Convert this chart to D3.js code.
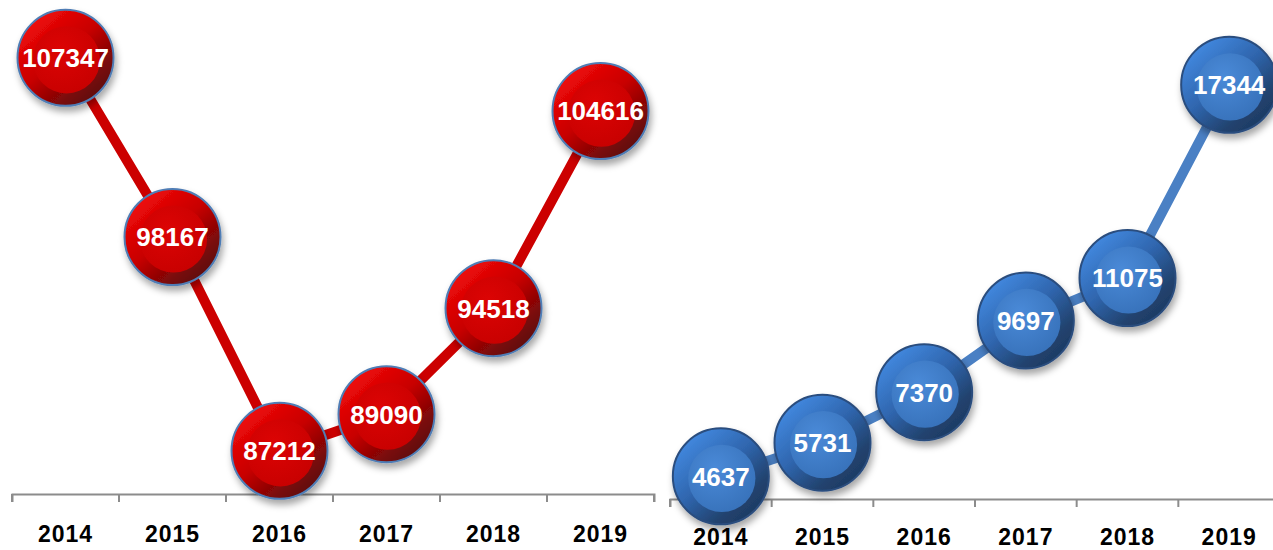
<!DOCTYPE html>
<html>
<head>
<meta charset="utf-8">
<script src="https://cdn.jsdelivr.net/npm/d3@7"></script>
<style>
  html, body { margin: 0; padding: 0; background: #ffffff; }
  svg { display: block; }
</style>
</head>
<body>
<svg id="chart" width="1273" height="550"></svg>
<script>
// ---- data ----
const years = ["2014", "2015", "2016", "2017", "2018", "2019"];
const leftValues = [107347, 98167, 87212, 89090, 94518, 104616];
const rightValues = [4637, 5731, 7370, 9697, 11075, 17344];
const leftDomain = [85000, 110000];
const rightDomain = [4000, 20000];

const svg = d3.select("#chart");
const defs = svg.append("defs");

// shadow filter
const f = defs.append("filter").attr("id", "shadow")
  .attr("x", "-30%").attr("y", "-30%").attr("width", "160%").attr("height", "170%");
f.append("feDropShadow").attr("dx", 2).attr("dy", 5).attr("stdDeviation", 3.5)
  .attr("flood-color", "#000").attr("flood-opacity", 0.35);

function linGrad(id, stops) {
  const g = defs.append("linearGradient").attr("id", id)
    .attr("x1", "15%").attr("y1", "10%").attr("x2", "85%").attr("y2", "90%");
  stops.forEach(s => g.append("stop").attr("offset", s[0]).attr("stop-color", s[1]));
}
function radGrad(id, stops) {
  const g = defs.append("radialGradient").attr("id", id)
    .attr("cx", "40%").attr("cy", "35%").attr("r", "75%");
  stops.forEach(s => g.append("stop").attr("offset", s[0]).attr("stop-color", s[1]));
}
linGrad("redOuter", [["0%", "#f00a0a"], ["45%", "#c80000"], ["80%", "#7a0808"], ["100%", "#5e0d0d"]]);
radGrad("redInner", [["0%", "#dc0404"], ["100%", "#c60000"]]);
linGrad("blueOuter", [["0%", "#4289e0"], ["45%", "#2f65ad"], ["80%", "#22436f"], ["100%", "#1d3a62"]]);
radGrad("blueInner", [["0%", "#4a8ad8"], ["100%", "#3670b8"]]);

const R = 48;

function panel(opts) {
  const x = d3.scaleBand().domain(years).range(opts.xRange);
  const y = d3.scaleLinear().domain(opts.domain).range(opts.yRange);
  const g = svg.append("g");

  // axis
  const axis = d3.axisBottom(x).tickSize(8).tickSizeOuter(8).tickFormat(d => d).tickPadding(opts.pad);
  const ag = g.append("g").attr("transform", `translate(0,${opts.axisY})`).call(axis);
  ag.select(".domain").attr("stroke", "#8c8c8c").attr("stroke-width", 2);
  ag.selectAll(".tick line").remove();
  // ticks at band boundaries
  const bounds = years.map(d => x(d)).concat([x(years[years.length - 1]) + x.bandwidth()]);
  ag.selectAll(".bline").data(bounds).enter().append("line")
    .attr("x1", d => d).attr("x2", d => d).attr("y1", 0).attr("y2", 8)
    .attr("stroke", "#8c8c8c").attr("stroke-width", 2);
  ag.selectAll(".tick text")
    .attr("fill", "#000").attr("font-family", "Liberation Sans, Arial, sans-serif")
    .attr("font-weight", "bold").attr("font-size", "23px")
    .attr("letter-spacing", "1px");

  const pts = opts.values.map((v, i) => ({ cx: x(years[i]) + x.bandwidth() / 2, cy: y(v), v }));

  // line
  g.append("path").datum(pts)
    .attr("d", d3.line().x(d => d.cx).y(d => d.cy))
    .attr("fill", "none").attr("stroke", opts.lineColor).attr("stroke-width", 10);

  // bubbles
  const b = g.selectAll(".bub").data(pts).enter().append("g")
    .attr("transform", d => `translate(${d.cx},${d.cy})`);
  b.append("circle").attr("r", R).attr("fill", `url(#${opts.outer})`)
    .attr("stroke", opts.stroke).attr("stroke-width", 2).attr("filter", "url(#shadow)");
  b.append("circle").attr("r", R * 0.7).attr("cx", 1).attr("cy", 2)
    .attr("fill", `url(#${opts.inner})`);
  b.append("text").text(d => d.v)
    .attr("text-anchor", "middle").attr("dy", "0.36em")
    .attr("fill", "#ffffff").attr("font-family", "Liberation Sans, Arial, sans-serif")
    .attr("font-weight", "bold").attr("font-size", "26px");
}

panel({ values: leftValues, domain: leftDomain, xRange: [12, 654], yRange: [494, 6], axisY: 494, pad: 24,
  lineColor: "#cc0000", outer: "redOuter", inner: "redInner", stroke: "#4f7db5" });
panel({ values: rightValues, domain: rightDomain, xRange: [670, 1280], yRange: [496, 3], axisY: 499, pad: 22,
  lineColor: "#4a80c4", outer: "blueOuter", inner: "blueInner", stroke: "#2b4d7e" });
</script>
</body>
</html>
